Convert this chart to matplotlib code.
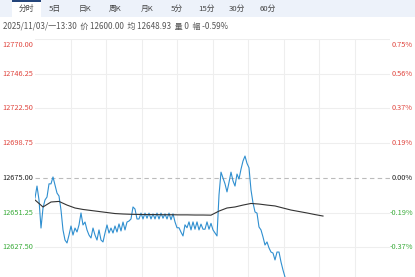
import numpy as np
import matplotlib
matplotlib.use('Agg')
import matplotlib.pyplot as plt
from matplotlib.patches import Rectangle

plt.rcParams['font.family'] = ['Noto Sans CJK SC', 'DejaVu Sans']

# 分时数据 (每点约 2 分钟)
price = [12661.3, 12669.5, 12660.0, 12640.8, 12654.5, 12660.0, 12662.0, 12671.0, 12671.0, 12675.7,
         12670.2, 12664.7, 12662.7, 12653.1, 12639.5, 12632.6, 12630.6, 12636.0, 12642.2, 12636.0,
         12640.8, 12638.1, 12642.9, 12651.1, 12642.9, 12644.9, 12639.5, 12636.0, 12634.0, 12640.8,
         12636.0, 12632.6, 12639.5, 12632.6, 12631.3, 12637.4, 12642.9, 12637.4, 12640.8, 12637.4,
         12642.2, 12638.1, 12643.6, 12638.8, 12644.9, 12639.5, 12644.9, 12645.6, 12647.0, 12655.2,
         12653.8, 12647.0, 12647.0, 12651.0, 12647.0, 12651.0, 12647.5, 12651.0, 12647.0, 12650.5,
         12647.0, 12651.0, 12647.0, 12651.0, 12647.5, 12650.5, 12647.0, 12651.0, 12646.5, 12650.5,
         12645.0, 12641.0, 12641.0, 12638.0, 12635.4, 12643.0, 12641.0, 12645.0, 12639.5, 12645.0,
         12640.0, 12645.0, 12639.5, 12643.5, 12640.0, 12640.0, 12645.0, 12640.0, 12644.0, 12639.5,
         12637.4, 12635.4, 12663.4, 12679.0, 12675.0, 12671.0, 12665.5, 12672.0, 12679.0, 12673.0,
         12669.5, 12677.7, 12674.3, 12681.0, 12686.6, 12690.0, 12685.0, 12682.0, 12666.8, 12658.0,
         12651.8, 12651.0, 12641.5, 12639.5, 12634.7, 12629.2, 12631.3, 12627.2, 12624.4, 12623.7,
         12619.0, 12624.4, 12624.4, 12617.6, 12612.1, 12607.3, 12605.0, 12603.0, 12604.0, 12601.0,
         12602.0, 12598.0, 12600.0, 12597.0, 12599.0, 12601.0, 12598.0, 12596.0, 12599.0, 12597.0,
         12600.0, 12598.0, 12599.0, 12601.0, 12600.0]

avg_price = [12660.0, 12655.2, 12658.6, 12659.0, 12656.5, 12654.5, 12653.5, 12652.8, 12652.1, 12651.4,
             12650.7, 12650.4, 12650.2, 12650.1, 12650.0, 12650.0, 12649.9, 12649.9, 12649.8, 12649.8,
             12649.7, 12649.7, 12649.6, 12652.4, 12654.5, 12655.2, 12656.5, 12657.6, 12657.2, 12656.5,
             12655.9, 12654.5, 12653.1, 12652.1, 12651.1, 12650.0, 12649.0]
avg_step = 4

pre_close = 12675.0
price_ticks = [12770.00, 12746.25, 12722.50, 12698.75, 12675.00, 12651.25, 12627.50]
pct_labels = ['0.75%', '0.56%', '0.37%', '0.19%', '0.00%', '-0.19%', '-0.37%']
tabs = ['分时', '5日', '日K', '周K', '月K', '5分', '15分', '30分', '60分']
info = '2025/11/03/一13:30  价 12600.00  均 12648.93  量 0  幅 -0.59%'

n_slots = 177.5

W, H = 415, 277
fig = plt.figure(figsize=(W / 100, H / 100), dpi=100)
fig.patch.set_facecolor('white')

# 顶部标签栏
fig.patches.append(Rectangle((0, 1 - 17 / H), 1, 17 / H, transform=fig.transFigure,
                             facecolor='#edf2fa', edgecolor='none', zorder=0))
fig.patches.append(Rectangle((12 / W, 1 - 17 / H), 29 / W, 17 / H, transform=fig.transFigure,
                             facecolor='white', edgecolor='none', zorder=1))
fig.patches.append(Rectangle((12 / W, 1 - 1.5 / H), 29 / W, 1.5 / H, transform=fig.transFigure,
                             facecolor='#24457a', edgecolor='none', zorder=2))
tab_x = [26, 55, 85, 115, 147, 177, 207, 237, 268]
for t, tx in zip(tabs, tab_x):
    fig.text(tx / W, 1 - 8.5 / H, t, ha='center', va='center', fontsize=5.6, color='#444444')
fig.text(3 / W, 1 - 25.5 / H, info, ha='left', va='center', fontsize=5.8, color='#555555')

# 主图 (下方超出画布, 与参考图一样被裁掉)
ax = fig.add_axes([35 / W, (H - 317) / H, 355 / W, 278 / H])
ax.set_xlim(0, n_slots)
ax.set_ylim(12580.0, 12770.0)
for s in ax.spines.values():
    s.set_visible(False)
ax.set_xticks([])
ax.set_yticks([])

for k in range(1, 10):
    ax.axvline(k * n_slots / 10, color='#eeeeee', lw=0.8, zorder=0)
for p in price_ticks:
    if p == pre_close:
        ax.axhline(p, color='#bbbbbb', lw=0.8, ls=(0, (4, 3)), zorder=1)
    else:
        ax.axhline(p, color='#eeeeee', lw=0.8, zorder=0)

ax.plot(np.arange(len(price)), price, color='#2f8fd0', lw=0.8, zorder=3)
ax.plot(np.arange(len(avg_price)) * avg_step, avg_price, color='#333333', lw=0.8, zorder=4)

# 坐标标签
tr = matplotlib.transforms.blended_transform_factory(fig.transFigure, ax.transData)
for p, lab in zip(price_ticks, pct_labels):
    if p > pre_close:
        c = '#e0463f'
    elif p < pre_close:
        c = '#3aab3a'
    else:
        c = '#222222'
    va = 'top' if p == price_ticks[0] else 'center'
    yy = p - 1.2 if va == 'top' else p
    ax.text(2 / W, yy, f'{p:.2f}', transform=tr, ha='left', va=va, fontsize=5.3, color=c)
    ax.text(413 / W, yy, lab, transform=tr, ha='right', va=va, fontsize=5.3, color=c)

fig.savefig('out.png', dpi=100)
